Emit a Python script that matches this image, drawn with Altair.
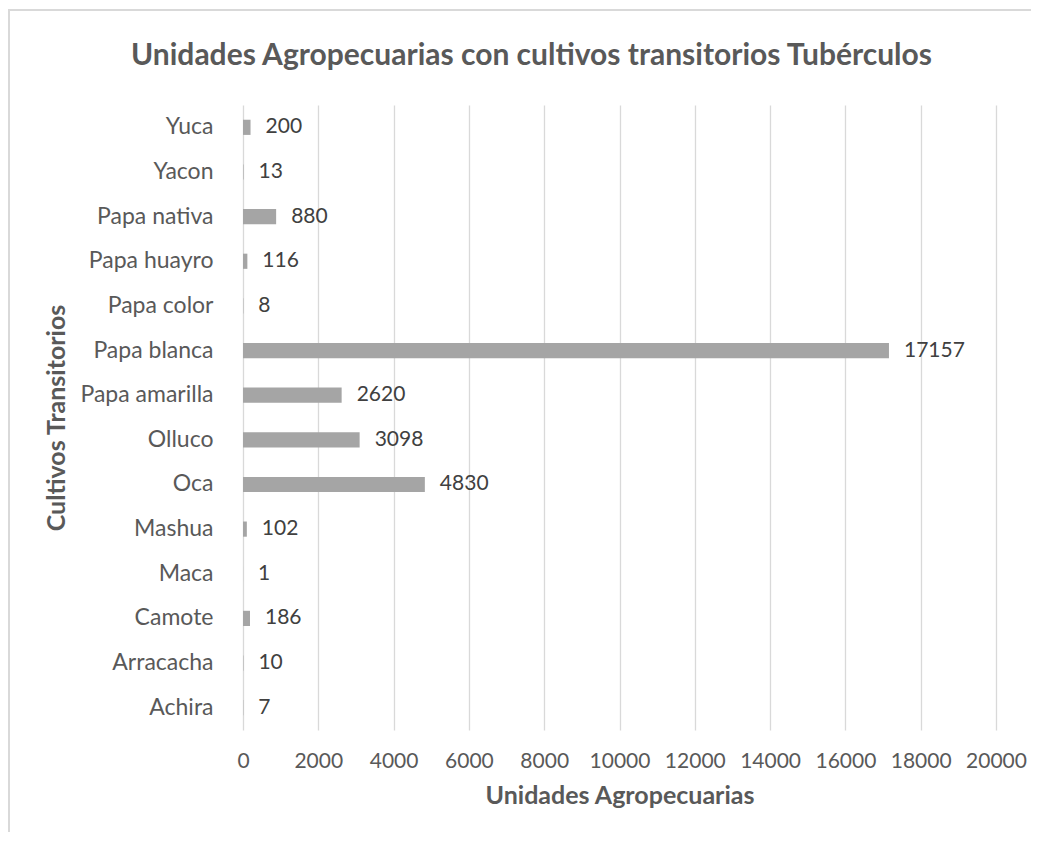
import altair as alt
import pandas as pd

cultivos = ["Yuca", "Yacon", "Papa nativa", "Papa huayro", "Papa color", "Papa blanca",
            "Papa amarilla", "Olluco", "Oca", "Mashua", "Maca", "Camote", "Arracacha", "Achira"]
unidades = [200, 13, 880, 116, 8, 17157, 2620, 3098, 4830, 102, 1, 186, 10, 7]
x_ticks = [0, 2000, 4000, 6000, 8000, 10000, 12000, 14000, 16000, 18000, 20000]

df = pd.DataFrame({"Cultivo": cultivos, "Unidades": unidades})

FONT = "Lato"
W, H = 753, 625

y_enc = alt.Y("Cultivo:N", sort=cultivos,
              scale=alt.Scale(paddingInner=0.66, paddingOuter=0.33),
              axis=alt.Axis(title="Cultivos Transitorios", domain=False, ticks=False,
                            grid=False,
                            labelPadding=30, labelFontSize=23, labelColor="#595959",
                            labelFont=FONT, titleFont=FONT, titleFontSize=25,
                            titleFontWeight="bold", titleColor="#595959",
                            titlePadding=10))
x_enc = alt.X("Unidades:Q",
              scale=alt.Scale(domain=[0, 20000], nice=False),
              axis=alt.Axis(title="Unidades Agropecuarias", values=x_ticks, format="d",
                            domain=False, ticks=False, grid=True, gridColor="#D9D9D9",
                            gridWidth=1.3, labelPadding=20, labelFontSize=21,
                            labelColor="#595959", labelFont=FONT, titleFont=FONT,
                            titleFontSize=25, titleFontWeight="bold",
                            titleColor="#595959", titlePadding=12,
                            labelFlush=False))

bars = alt.Chart(df).mark_bar(color="#A5A5A5").encode(x=x_enc, y=y_enc)
labels = alt.Chart(df).mark_text(align="left", baseline="middle", dx=15,
                                 font=FONT, fontSize=21, color="#404040").encode(
    x=alt.X("Unidades:Q"),
    y=alt.Y("Cultivo:N", sort=cultivos),
    text="Unidades:Q")

border_top = alt.Chart(df).mark_rule(color="#D9D9D9", strokeWidth=2, clip=False).encode(
    x=alt.value(-235), x2=alt.value(800), y=alt.value(-95))
border_left = alt.Chart(df).mark_rule(color="#D9D9D9", strokeWidth=2, clip=False).encode(
    x=alt.value(-234), y=alt.value(-96), y2=alt.value(760))

chart = alt.layer(border_top, border_left, bars, labels).properties(
    width=W, height=H,
    background="white",
    title=alt.TitleParams("Unidades Agropecuarias con cultivos transitorios Tubérculos",
                          font=FONT, fontSize=30, fontWeight="bold", color="#595959",
                          anchor="middle", frame="group", baseline="alphabetic",
                          dx=-88, offset=-87),
    autosize=alt.AutoSizeParams(type="none"),
    padding={"left": 235, "top": 97, "right": 35, "bottom": 102},
).configure_view(strokeWidth=0, stroke="transparent").configure_axis(
    domain=False, ticks=False)

chart.save("out.html", embed_options={"renderer": "svg", "actions": False})
